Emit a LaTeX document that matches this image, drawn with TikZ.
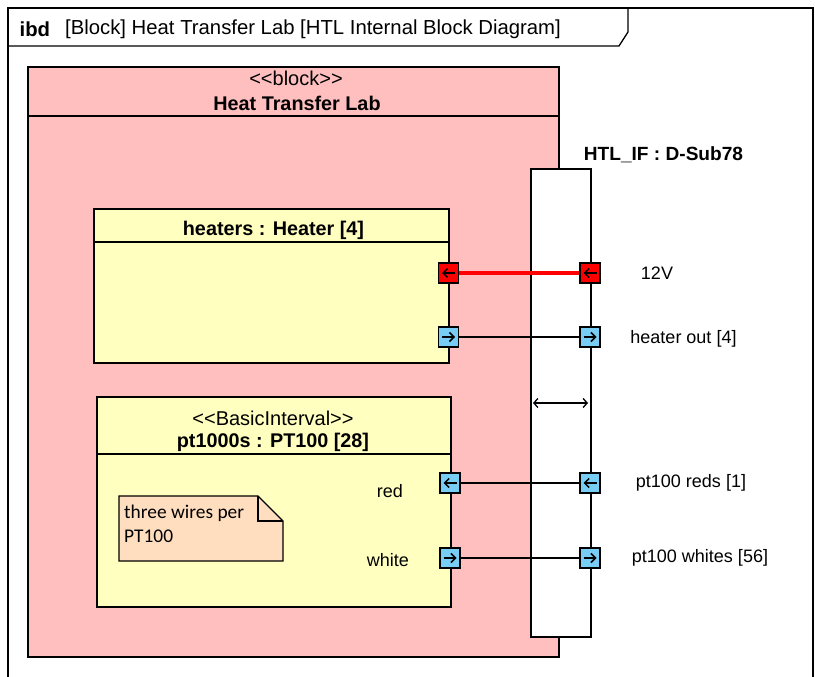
\documentclass[tikz,border=0pt]{standalone}
\usepackage{fontspec}
\setmainfont{Liberation Sans}
\newfontfamily\notefont{Carlito}
\usetikzlibrary{arrows.meta}
\definecolor{blockpink}{HTML}{FFBFBF}
\definecolor{partyellow}{HTML}{FFFFC0}
\definecolor{portblue}{HTML}{78CDF5}
\definecolor{notepeach}{HTML}{FFDEC0}
\newcommand\hdrtxt{\fontsize{20.3}{23}\selectfont}
\newcommand\bigtxt{\fontsize{19.8}{22}\selectfont}
\newcommand\iftxt{\fontsize{19.1}{22}\selectfont}
\newcommand\smalltxt{\fontsize{18}{21}\selectfont}
\newcommand\stertxt{\fontsize{20}{22}\selectfont}
\newcommand\notetxt{\fontsize{19.4}{23}\selectfont}
\begin{document}
\begin{tikzpicture}[x=1pt,y=-1pt,
  blk/.style={draw, line width=1.8, fill=blockpink, anchor=north west, inner sep=0},
  part/.style={draw, line width=1.8, fill=partyellow, anchor=north west, inner sep=0},
  ifbox/.style={draw, line width=1.5, fill=white, anchor=north west, inner sep=0},
  portb/.style={draw, line width=1.3, fill=portblue, minimum size=20, inner sep=0},
  portr/.style={draw, line width=1.3, fill=red, minimum size=20, inner sep=0},
  parr/.style={line width=1.5, -{Straight Barb[length=4.5,width=9]}},
  conn/.style={line width=1.4},
  lbl/.style={inner sep=0, font=\smalltxt},
  ttl/.style={inner sep=0, font=\bigtxt\bfseries},
  ster/.style={inner sep=0, font=\stertxt}
]
\useasboundingbox (0,0) rectangle (815,677);
\fill[white] (0,0) rectangle (815,677);
% frame
\draw[line width=1.3] (8,677) -- (8,8) -- (813,8) -- (813,677);
\draw[line width=1.3] (8,46) -- (619,46) -- (628,32) -- (628,8);
\node[anchor=west, inner sep=0, font=\hdrtxt\bfseries] (ibd) at (19.5,29) {ibd};
\node[anchor=west, inner sep=0, font=\hdrtxt] (hdr) at (65,29) {[Block] Heat Transfer Lab [HTL Internal Block Diagram]};
% outer block
\node[blk, minimum width=531, minimum height=590] (htl) at (27,66) {};
\draw[line width=1.5] (27,116) -- (558,116);
\node[ster] (htlst) at (296,78) {{<}{<}block{>}{>}};
\node[ttl] (htlname) at (297,103) {Heat Transfer Lab};
% interface
\node[ifbox, minimum width=60, minimum height=468] (iface) at (530,168) {};
\node[inner sep=0, font=\iftxt\bfseries] (ifname) at (663.5,155) {HTL\_IF : D-Sub78};
% heaters
\node[part, minimum width=355, minimum height=154] (heaters) at (93,208) {};
\draw[line width=1.5] (93,242) -- (448,242);
\node[ttl] (hname) at (273.5,230) {heaters : Heater [4]};
% pt1000s
\node[part, minimum width=354, minimum height=210] (pts) at (96,396) {};
\draw[line width=1.5] (96,454) -- (450,454);
\node[ster] (ptst) at (273,418) {{<}{<}BasicInterval{>}{>}};
\node[ttl] (ptname) at (273,442) {pt1000s : PT100 [28]};
\node[lbl] (redl) at (390,491) {red};
\node[lbl] (whitel) at (388,560) {white};
% note
\fill[notepeach] (119,496) -- (258,496) -- (283,521) -- (283,561) -- (119,561) -- cycle;
\draw[line width=1.3] (119,496) -- (258,496) -- (283,521) -- (283,561) -- (119,561) -- cycle;
\draw[line width=1.3] (258,496) -- (258,521) -- (283,521);
\node[anchor=north west, inner sep=0, align=left, font=\notetxt\notefont] (note) at (124,505) {three wires per\\[1pt]PT100};
% ports
\node[portr] (hp1) at (448.5,273) {};
\node[portb] (hp2) at (448.5,337) {};
\node[portb] (pp1) at (450,483) {};
\node[portb] (pp2) at (450,558) {};
\node[portr] (ip1) at (590,273) {};
\node[portb] (ip2) at (590,337) {};
\node[portb] (ip3) at (590,483) {};
\node[portb] (ip4) at (590,558) {};
% connectors
\draw[red, line width=3.2] (hp1.east) -- (ip1.west);
\draw[conn] (hp2.east) -- (ip2.west);
\draw[conn] (pp1.east) -- (ip3.west);
\draw[conn] (pp2.east) -- (ip4.west);
% port arrows
\foreach \p in {hp1,ip1,pp1,ip3} {
  \draw[parr] ([xshift=6.5]\p.center) -- ([xshift=-6.5]\p.center);
}
\foreach \p in {hp2,ip2,pp2,ip4} {
  \draw[parr] ([xshift=-6.5]\p.center) -- ([xshift=6.5]\p.center);
}
% port labels
\node[lbl] (l12v) at (657,273) {12V};
\node[lbl] (lhout) at (683.5,339) {heater out [4]};
\node[lbl] (lreds) at (691,483) {pt100 reds [1]};
\node[lbl] (lwhites) at (700,558) {pt100 whites [56]};
% double arrow
\coordinate (da1) at (533,403);
\coordinate (da2) at (588,403);
\draw[line width=1.3, {Straight Barb[length=4,width=9]}-{Straight Barb[length=4,width=9]}] (da1) -- (da2);
\end{tikzpicture}
\end{document}
